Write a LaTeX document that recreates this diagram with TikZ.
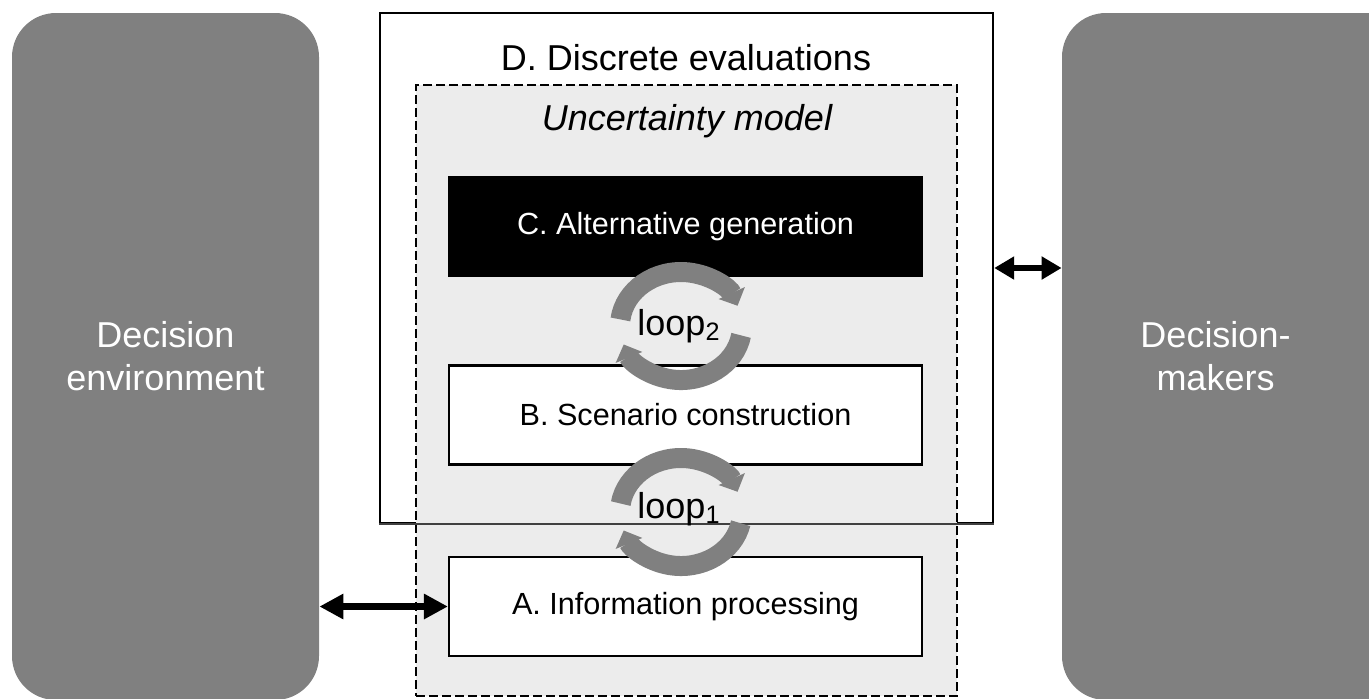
\documentclass[tikz,border=0pt]{standalone}
\usepackage{fontspec}
\setmainfont{Liberation Sans}
\usetikzlibrary{arrows.meta,calc}
\definecolor{sidegray}{RGB}{128,128,128}
\definecolor{loopgray}{RGB}{128,128,128}
\definecolor{ulight}{RGB}{236,236,236}
\begin{document}
\begin{tikzpicture}[x=0.5pt,y=-0.5pt,
  sidebox/.style={fill=sidegray, rounded corners=22pt},
  sidetext/.style={text=white, font=\fontsize{18}{21.5}\selectfont, align=center, inner sep=0pt},
  procbox/.style={draw=black, line width=1.1pt, fill=white, minimum width=236.5pt, minimum height=49.5pt, font=\fontsize{15.3}{18}\selectfont, inner sep=0pt},
  bigtext/.style={font=\fontsize{18}{21}\selectfont},
  loopline/.style={draw=loopgray, line width=10pt, -{Triangle[width=14pt,length=7pt]}},
  dblA/.style={line width=3.5pt, {Triangle[width=12pt,length=12pt]}-{Triangle[width=12pt,length=12pt]}},
  dblB/.style={line width=3pt, {Triangle[width=11pt,length=10pt]}-{Triangle[width=11pt,length=10pt]}},
  ubox/.style={draw=black, line width=1.2pt, dash pattern=on 4.5pt off 2pt, fill=ulight, inner sep=0pt}
]
\useasboundingbox (0,0) rectangle (1369,698);

% side boxes
\node[sidebox, sidetext, minimum width=153.5pt, minimum height=343.5pt] (env) at (165.5,356.5) {Decision\\environment};
\fill[sidebox] (1062,13) rectangle (1430,700);
\node[sidetext, minimum width=153.5pt, minimum height=343.5pt] (makers) at (1215.5,356.5) {Decision-\\makers};

% D box
\node[draw=black, line width=1.2pt, fill=white, minimum width=306.5pt, minimum height=255pt, inner sep=0pt] (D) at (686.5,268) {};
\node[bigtext] (Dtitle) at (686,58) {D. Discrete evaluations};

% Uncertainty model
\node[ubox, minimum width=270.5pt, minimum height=305.5pt] (U) at (686.5,390.5) {};
\node[bigtext, font=\fontsize{18}{21}\selectfont\itshape, anchor=base] (Utitle) at (687,130) {Uncertainty model};
\draw[line width=0.8pt, black!75] (D.south west) -- (D.south east);

% process boxes
\node[procbox, fill=black, text=white] (C) at (685.5,226.5) {C. Alternative generation};
\node[procbox] (B) at (685.5,415) {B. Scenario construction};
\node[procbox] (A) at (685.5,606.5) {A. Information processing};

% loops
\coordinate (l2) at (681,326);
\coordinate (l1) at (681,512);
\draw[loopline] ($(l2)+(173:30.5pt and 27pt)$) arc[start angle=173, end angle=22, x radius=30.5pt, y radius=27pt];
\draw[loopline] ($(l2)+(-10:30.5pt and 27pt)$) arc[start angle=-10, end angle=-160, x radius=30.5pt, y radius=27pt];
\draw[loopline] ($(l1)+(171:30.5pt and 27pt)$) arc[start angle=171, end angle=22, x radius=30.5pt, y radius=27pt];
\draw[loopline] ($(l1)+(-12:30.5pt and 27pt)$) arc[start angle=-12, end angle=-160, x radius=30.5pt, y radius=27pt];
\node[bigtext, anchor=base] (loop2) at (679,335) {loop\textsubscript{2}};
\node[bigtext, anchor=base] (loop1) at (679,518) {loop\textsubscript{1}};

% arrows
\draw[dblA] (env.east |- A.west) -- (A.west);
\draw[dblB] (D.east) -- (D.east -| makers.west);
\end{tikzpicture}
\end{document}
